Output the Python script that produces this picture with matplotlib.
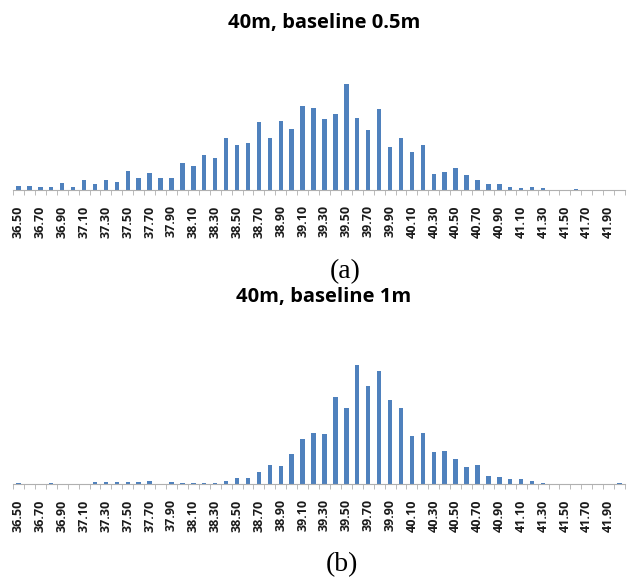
import matplotlib.pyplot as plt
import numpy as np

# bin centres 36.50 .. 42.00, step 0.1
bins = ['%.2f' % (v / 100) for v in range(3650, 4201, 10)]

# bar heights (arbitrary units)
counts_a = [12, 12, 8, 8, 22, 8, 30, 18, 30, 24,
            57, 37, 50, 37, 37, 82, 73, 105, 97, 157,
            135, 142, 203, 157, 207, 183, 253, 247, 213, 228,
            318, 215, 180, 243, 130, 157, 115, 135, 47, 55,
            65, 44, 30, 17, 17, 9, 7, 9, 6, 1,
            1, 3, 0, 0, 0, 0]
counts_b = [4, 0, 0, 2, 0, 0, 0, 6, 6, 5,
            7, 7, 8, 1, 5, 3, 2, 2, 2, 8,
            18, 18, 36, 56, 53, 90, 136, 154, 150, 260,
            229, 358, 295, 340, 253, 228, 145, 152, 95, 100,
            75, 52, 56, 25, 20, 16, 16, 10, 2, 1,
            1, 1, 1, 1, 1, 3]

titles = ['40m, baseline 0.5m', '40m, baseline 1m']
captions = ['(a)', '(b)']

W, H = 627, 581
fig = plt.figure(figsize=(W / 100, H / 100), dpi=100)
blue = '#4F81BD'

def panel(counts, base_px, top_px, ymax, title, title_y, cap, cap_x, cap_y):
    ax = fig.add_axes([13 / W, (H - base_px) / H, 612 / W, (base_px - top_px) / H])
    x = np.arange(len(bins))
    ax.bar(x, counts, width=0.4, color=blue)
    ax.set_xlim(-0.5, len(bins) - 0.5)
    ax.set_ylim(0, ymax)
    for s in ['top', 'right', 'left']:
        ax.spines[s].set_visible(False)
    ax.spines['bottom'].set_color('#B0B0B0')
    ax.yaxis.set_visible(False)
    ax.set_xticks(x[::2])
    ax.set_xticklabels(bins[::2], rotation=90, fontsize=9, fontweight='bold',
                       family='Open Sans', color='#1a1a1a')
    ax.set_xticks(np.arange(len(bins) + 1) - 0.5, minor=True)
    ax.tick_params(axis='x', which='major', length=0, pad=11)
    ax.tick_params(axis='x', which='minor', length=3.5, color='#B0B0B0')
    fig.text(324 / W, 1 - title_y / H, title, ha='center', va='center',
             fontsize=14.5, fontweight='bold', family='Open Sans')
    fig.text(cap_x / W, 1 - cap_y / H, cap, ha='center', va='center',
             fontsize=20, family='Liberation Serif')
    return ax

panel(counts_a, 190, 80, 330, titles[0], 23, captions[0], 345, 272)
panel(counts_b, 484, 484 - 370 / 3, 370, titles[1], 297, captions[1], 342, 565)

fig.savefig('out.png', dpi=100)
